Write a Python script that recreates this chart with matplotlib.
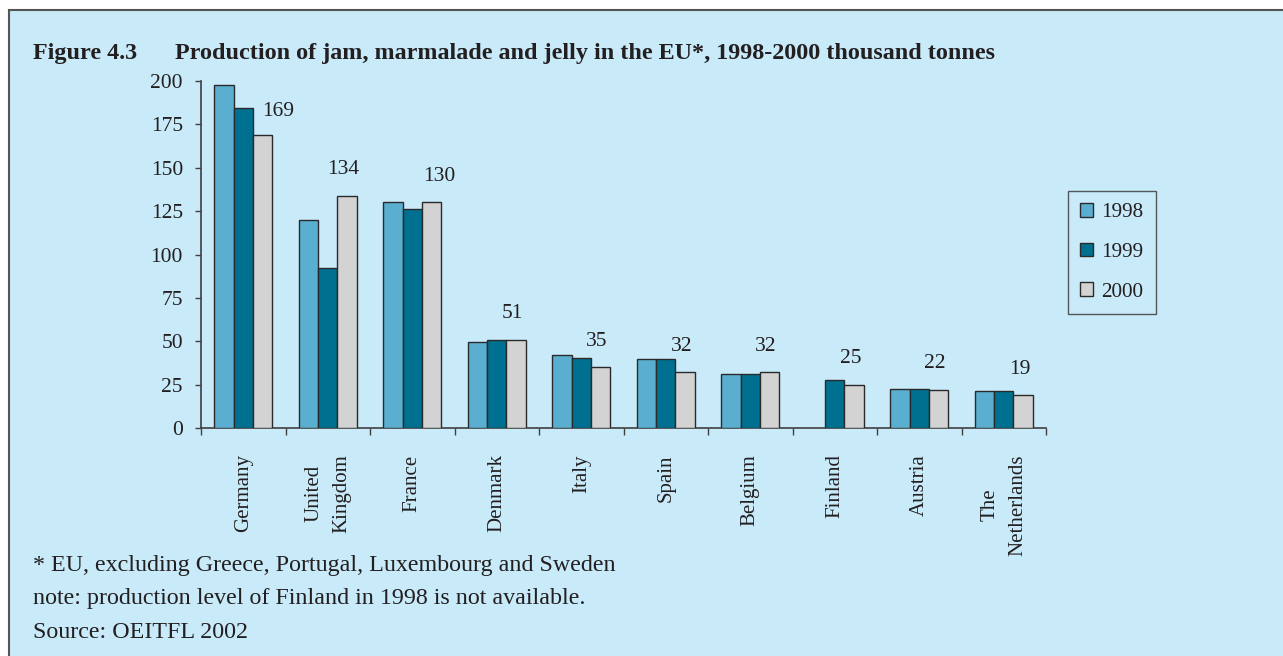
import numpy as np
import matplotlib
matplotlib.use("Agg")
import matplotlib.pyplot as plt
from matplotlib.patches import Rectangle, Patch

# Production of jam, marmalade and jelly (thousand tonnes)
countries = ["Germany", "United\nKingdom", "France", "Denmark", "Italy",
             "Spain", "Belgium", "Finland", "Austria", "The\nNetherlands"]
years = ["1998", "1999", "2000"]
prod_1998 = [197.5, 120, 130.5, 49.5, 42, 39.5, 31, np.nan, 22.5, 21.5]
prod_1999 = [184.5, 92, 126.5, 51, 40.5, 39.5, 31, 27.5, 22.5, 21.5]
prod_2000 = [169, 134, 130, 51, 35, 32, 32, 25, 22, 19]
yticks = [0, 25, 50, 75, 100, 125, 150, 175, 200]

footnotes = ["* EU, excluding Greece, Portugal, Luxembourg and Sweden",
             "note: production level of Finland in 1998 is not available.",
             "Source: OEITFL 2002"]

# label nudges (pixels) for the 2000 value labels
label_dx = [15.5, -4, 8, -3.5, -3.5, -3.5, -3.5, -3.5, -3.5, -3.5]
label_dy = [23, 26, 26, 26, 26, 26, 26, 26, 26, 26]

BG = "#C8EAF9"
TXT = "#231F20"
colors = ["#5AAFD0", "#007090", "#D3D3D3"]
SERIF = ["Liberation Serif", "DejaVu Serif"]
plt.rcParams["font.family"] = SERIF

W, H = 1283, 656
fig = plt.figure(figsize=(W / 100, H / 100), dpi=100, facecolor="white")

# panel background with a thin frame on top and left
fig.patches.append(Rectangle((9 / W, -0.05), 1.1, 1 - 10 / H + 0.05,
                             transform=fig.transFigure, facecolor=BG,
                             edgecolor="#555555", linewidth=1.5, zorder=-5))

ax = fig.add_axes([201 / W, 228 / H, 845 / W, 347 / H])
ax.set_facecolor("none")
ax.set_zorder(2)

x = np.arange(len(countries))
bw = 0.228
series = [prod_1998, prod_1999, prod_2000]
bar_sets = []
for i, (vals, c) in enumerate(zip(series, colors)):
    bars = ax.bar(x + (i - 1) * bw, vals, width=bw, color=c,
                  edgecolor="#2a2a2a", linewidth=1.0, zorder=3)
    bar_sets.append(bars)

for i, (bar, v) in enumerate(zip(bar_sets[2], prod_2000)):
    ax.annotate(f"{v:g}", xy=(bar.get_x() + bar.get_width() / 2, v),
                xytext=(label_dx[i] * 0.72, label_dy[i] * 0.72),
                textcoords="offset points", ha="center", va="center",
                fontsize=15.5, color=TXT, annotation_clip=False)

ax.set_xlim(-0.5, len(countries) - 0.5)
ax.set_ylim(0, 200)
ax.set_yticks(yticks)
ax.set_yticklabels([str(t) for t in yticks], fontsize=15.5, color=TXT)
ax.set_xticks(x)
ax.set_xticklabels(countries, rotation=90, fontsize=15, color=TXT,
                   va="top", ha="center", multialignment="center",
                   linespacing=1.6)
ax.set_xticks(np.arange(-0.5, len(countries)), minor=True)
ax.tick_params(axis="x", which="major", length=0, pad=19)
ax.tick_params(axis="x", which="minor", length=5, width=1.0,
               color="#404040", direction="out")
ax.tick_params(axis="y", length=4.5, width=1.0, color="#404040",
               direction="out", pad=8.5)

for side in ("top", "right"):
    ax.spines[side].set_visible(False)
for side in ("left", "bottom"):
    ax.spines[side].set_color("#404040")
    ax.spines[side].set_linewidth(1.2)

handles = [Patch(facecolor=c, edgecolor="#2a2a2a", linewidth=1.0) for c in colors]
leg = fig.legend(handles, years, loc="upper left",
                 bbox_to_anchor=(1068 / W, 1 - 191 / H),
                 frameon=True, fancybox=False, fontsize=15.2,
                 handlelength=0.6, handleheight=0.6, handletextpad=0.4,
                 labelspacing=0.97, borderpad=0.58, borderaxespad=0)
leg.get_frame().set_facecolor("none")
leg.get_frame().set_edgecolor("#333333")
leg.get_frame().set_linewidth(1.0)
for t in leg.get_texts():
    t.set_color(TXT)

fig.text(33 / W, 1 - 53 / H, "Figure 4.3", fontsize=17.4, fontweight="bold",
         color=TXT, va="center", ha="left")
fig.text(175 / W, 1 - 53 / H,
         "Production of jam, marmalade and jelly in the EU*, 1998-2000 thousand tonnes",
         fontsize=17.4, fontweight="bold", color=TXT, va="center", ha="left")

for k, line in enumerate(footnotes):
    fig.text(33 / W, 1 - (565 + k * 33.5) / H, line, fontsize=17.3,
             color=TXT, va="center", ha="left")

fig.savefig("out.png", dpi=100, facecolor=fig.get_facecolor())
